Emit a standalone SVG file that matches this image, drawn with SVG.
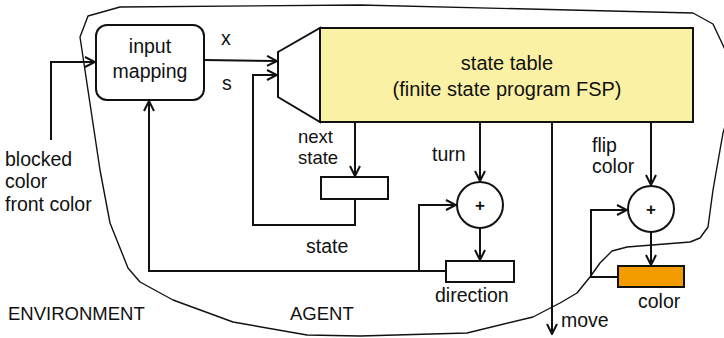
<svg xmlns="http://www.w3.org/2000/svg" width="724" height="338" viewBox="0 0 724 338">
<defs>
<style>
text{font-family:"Liberation Sans",Arial,sans-serif;font-size:19.5px;fill:#111}
.ln{fill:none;stroke:#111;stroke-width:2}
.bx{fill:#fff;stroke:#111;stroke-width:2}
.bd{fill:none;stroke:#111;stroke-width:1.4;stroke-linejoin:round}
.big{font-size:20px}
.env{font-size:18.5px}
.sm{font-size:18.5px}
.plus{font-weight:bold;font-size:17px}
</style>
<marker id="ar" viewBox="0 0 12 12" refX="11" refY="6" markerWidth="12" markerHeight="12" markerUnits="userSpaceOnUse" orient="auto">
<path d="M1,1 L11,6 L1,11" fill="none" stroke="#111" stroke-width="2"/>
</marker>
</defs>
<rect width="724" height="338" fill="#fff"/>
<path class="bd" d="M120,7 L360,5 L693,13 L713,24 L730,60 L730,110 L723,133 L717,167 L713,190 L708,227 L700,238 L690,242 L627,247 L612,251 L600,263 L590,277 L577,293 L560,303 L533,317 L467,333 L360,336 L307,335 L233,322 L173,300 L140,282 L128,268 L110,223 L100,170 L80,37 L88,16 Z"/>
<g id="connectors">
<polyline class="ln" points="51,140 51,62 95,62" marker-end="url(#ar)"/>
<line class="ln" x1="204" y1="60" x2="277" y2="61" marker-end="url(#ar)"/>
<polyline class="ln" points="355,199 355,225 253,225 253,75 277,75" marker-end="url(#ar)"/>
<line class="ln" x1="355" y1="122" x2="355" y2="176" marker-end="url(#ar)"/>
<line class="ln" x1="480" y1="122" x2="480" y2="181" marker-end="url(#ar)"/>
<line class="ln" x1="480" y1="228" x2="480" y2="260" marker-end="url(#ar)"/>
<polyline class="ln" points="446,271 149,271 149,101" marker-end="url(#ar)"/>
<polyline class="ln" points="419,271 419,205 456,205" marker-end="url(#ar)"/>
<line class="ln" x1="552" y1="122" x2="552" y2="334" marker-end="url(#ar)"/>
<line class="ln" x1="651" y1="122" x2="651" y2="185" marker-end="url(#ar)"/>
<line class="ln" x1="651" y1="232" x2="651" y2="265" marker-end="url(#ar)"/>
<polyline class="ln" points="618,277 591,277 591,210 627,210" marker-end="url(#ar)"/>
</g>
<g id="input-mapping">
<rect class="bx" x="96" y="25" width="108" height="75" rx="11"/>
<text x="150" y="53" text-anchor="middle">input</text>
<text x="150" y="78" text-anchor="middle">mapping</text>
</g>
<g id="state-table">
<polygon class="bx" points="278,52 320,28 320,122 278,97"/>
<rect x="320" y="28" width="373" height="94" fill="#fbf1a5" stroke="#111" stroke-width="2"/>
<text class="big" x="507" y="70" text-anchor="middle">state table</text>
<text class="big" x="507" y="96" text-anchor="middle">(finite state program FSP)</text>
</g>
<g id="state-box"><rect class="bx" x="321" y="177" width="67" height="22"/></g>
<g id="turn-adder">
<circle class="bx" cx="480" cy="205" r="23"/>
<text class="plus" x="480" y="211" text-anchor="middle">+</text>
</g>
<g id="direction-box"><rect class="bx" x="446" y="261" width="68" height="21"/></g>
<g id="color-adder">
<circle class="bx" cx="651" cy="209" r="23"/>
<text class="plus" x="651" y="215" text-anchor="middle">+</text>
</g>
<g id="color-box"><rect x="618" y="266" width="66" height="21" fill="#f39c00" stroke="#111" stroke-width="2"/></g>
<g id="labels">
<text x="221" y="45">x</text>
<text x="222" y="90">s</text>
<text x="5" y="166">blocked</text>
<text x="5" y="188">color</text>
<text x="5" y="211">front color</text>
<text class="sm" x="298" y="143">next</text>
<text class="sm" x="298" y="164">state</text>
<text x="432" y="161">turn</text>
<text x="306" y="253">state</text>
<text x="435" y="302">direction</text>
<text x="592" y="152">flip</text>
<text x="592" y="173">color</text>
<text x="638" y="308">color</text>
<text x="561" y="327">move</text>
<text class="env" x="8" y="320">ENVIRONMENT</text>
<text class="env" x="290" y="320">AGENT</text>
</g>
</svg>
